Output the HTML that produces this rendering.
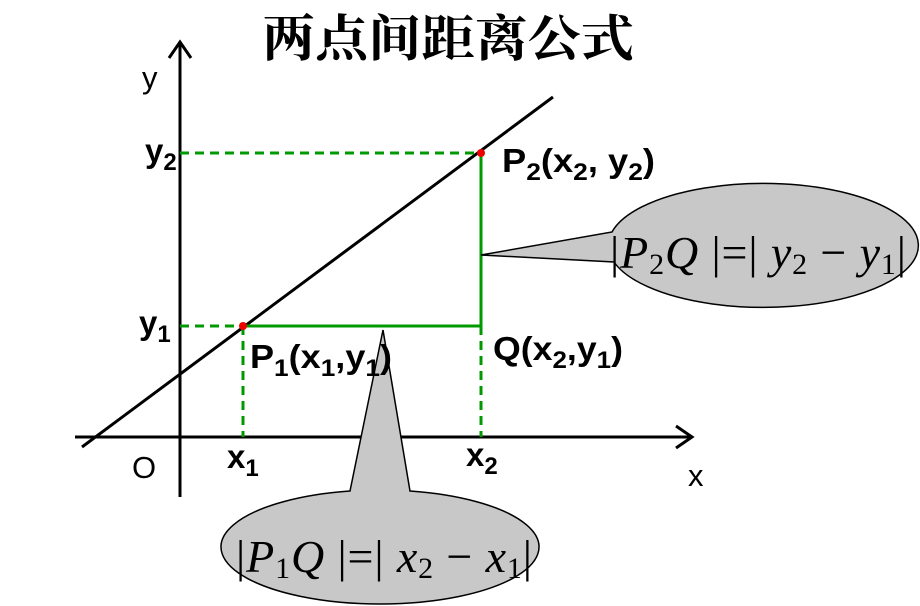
<!DOCTYPE html>
<html><head><meta charset="utf-8"><style>
html,body{margin:0;padding:0;background:#fff;}
svg{display:block}
.t{font-family:"Liberation Sans",Arial,sans-serif;font-size:33px;font-weight:bold;fill:#000}
.r{font-family:"Liberation Sans",Arial,sans-serif;font-size:31px;fill:#000}
.s{font-size:24px}
.m{font-family:"Liberation Serif","Times New Roman",serif;font-size:46px;fill:#000}
.mi{font-style:italic}
.ms{font-size:30px}
</style></head><body>
<svg width="920" height="606" viewBox="0 0 920 606" xmlns="http://www.w3.org/2000/svg">
<text x="448" y="56" text-anchor="middle" font-family="'Noto Serif CJK SC','Noto Sans CJK SC',serif" font-size="50" font-weight="bold" textLength="372" lengthAdjust="spacingAndGlyphs">两点间距离公式</text>
<line x1="180" y1="497" x2="180" y2="44" stroke="#000" stroke-width="3"/>
<polyline points="169,58 180,42 191,58" fill="none" stroke="#000" stroke-width="3"/>
<line x1="75" y1="437" x2="692" y2="437" stroke="#000" stroke-width="3"/>
<polyline points="676,426 692,437 676,448" fill="none" stroke="#000" stroke-width="3"/>
<line x1="82" y1="447" x2="553" y2="97" stroke="#000" stroke-width="3"/>
<g stroke="#009900" stroke-width="3" stroke-dasharray="9,6" fill="none">
<line x1="180" y1="153" x2="481" y2="153"/>
<line x1="180" y1="326" x2="243" y2="326"/>
<line x1="243" y1="326" x2="243" y2="437"/>
<line x1="481" y1="326" x2="481" y2="437"/>
</g>
<g stroke="#009900" stroke-width="3" fill="none">
<polyline points="243,326 481,326 481,153"/>
</g>
<circle cx="243" cy="326" r="4" fill="#e00"/>
<circle cx="481" cy="153" r="4" fill="#e00"/>
<text class="r" x="142" y="88">y</text>
<text class="t" x="145" y="162">y<tspan class="s" dy="8">2</tspan></text>
<text class="t" x="139" y="334">y<tspan class="s" dy="8">1</tspan></text>
<text class="t" x="502" y="172" textLength="153" lengthAdjust="spacingAndGlyphs">P<tspan class="s" dy="8">2</tspan><tspan dy="-8">(x</tspan><tspan class="s" dy="8">2</tspan><tspan dy="-8">, y</tspan><tspan class="s" dy="8">2</tspan><tspan dy="-8">)</tspan></text>
<text class="t" x="493" y="360" textLength="130" lengthAdjust="spacingAndGlyphs">Q(x<tspan class="s" dy="8">2</tspan><tspan dy="-8">,y</tspan><tspan class="s" dy="8">1</tspan><tspan dy="-8">)</tspan></text>
<text class="t" x="227" y="468">x<tspan class="s" dy="8">1</tspan></text>
<text class="t" x="466" y="466">x<tspan class="s" dy="8">2</tspan></text>
<text class="r" x="132" y="478">O</text>
<text class="r" x="688" y="486">x</text>
<path d="M481,255 L612,232 A155,62 0 1 1 614,262 Z" fill="#c8c8c8" stroke="#000" stroke-width="1.5"/>
<text class="m" x="610" y="268" textLength="296" lengthAdjust="spacing">|<tspan class="mi">P</tspan><tspan class="ms" dy="6">2</tspan><tspan class="mi" dy="-6">Q</tspan> |=| <tspan class="mi">y</tspan><tspan class="ms" dy="6">2</tspan><tspan dy="-6"> − </tspan><tspan class="mi">y</tspan><tspan class="ms" dy="6">1</tspan><tspan dy="-6">|</tspan></text>
<path d="M383,330 L410,491 A159,57 0 1 1 350,491 Z" fill="#c8c8c8" stroke="#000" stroke-width="1.5"/>
<text class="m" x="236" y="572" textLength="296" lengthAdjust="spacing">|<tspan class="mi">P</tspan><tspan class="ms" dy="6">1</tspan><tspan class="mi" dy="-6">Q</tspan> |=| <tspan class="mi">x</tspan><tspan class="ms" dy="6">2</tspan><tspan dy="-6"> − </tspan><tspan class="mi">x</tspan><tspan class="ms" dy="6">1</tspan><tspan dy="-6">|</tspan></text>
<text class="t" x="250" y="368" textLength="142" lengthAdjust="spacingAndGlyphs">P<tspan class="s" dy="8">1</tspan><tspan dy="-8">(x</tspan><tspan class="s" dy="8">1</tspan><tspan dy="-8">,y</tspan><tspan class="s" dy="8">1</tspan><tspan dy="-8">)</tspan></text>
</svg>
</body></html>
